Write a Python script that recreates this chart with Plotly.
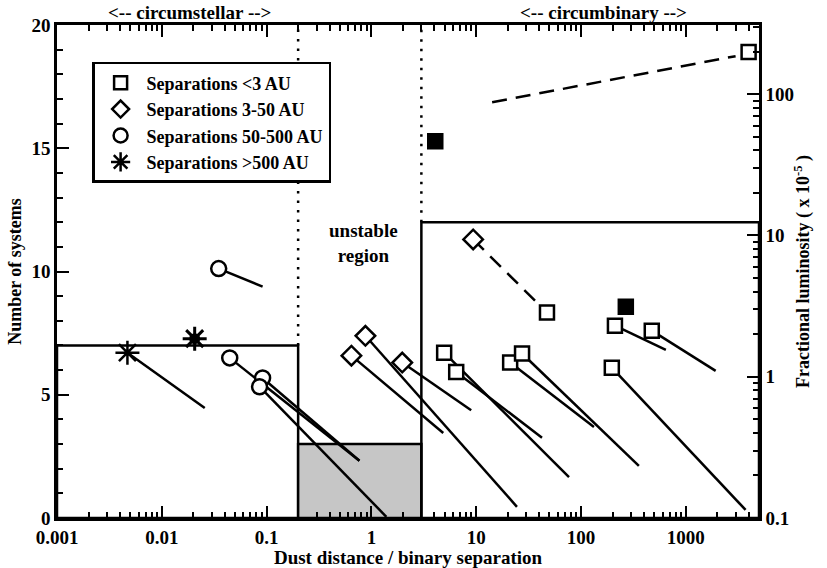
import plotly.graph_objects as go

# ---------------- data ----------------
# histogram (left axis: number of systems)
hist_edges = [0.001, 0.2, 3, 5000]
hist_counts = [7, 3, 12]
hist_shaded = [False, True, False]

# open squares (separations <3 AU) and the end points of their lines (right axis)
sq_x = [4.95, 6.45, 21.1, 27.4, 197, 211, 474, 47.4, 3980]
sq_y = [1.48, 1.08, 1.26, 1.46, 1.16, 2.30, 2.12, 2.85, 199]
sq_end_x = [76.9, 42.5, 133, 357, 3725, 646, 1930, None, None]
sq_end_y = [0.195, 0.37, 0.44, 0.234, 0.114, 1.55, 1.10, None, None]

# filled squares
fsq_x = [4.07, 268]
fsq_y = [46.5, 3.13]

# diamonds (separations 3-50 AU)
dia_x = [0.645, 0.877, 1.97, 9.36]
dia_y = [1.41, 1.95, 1.26, 9.38]
dia_end_x = [4.85, 24.5, 8.96, None]
dia_end_y = [0.40, 0.12, 0.58, None]

# circles (separations 50-500 AU)
circ_x = [0.0349, 0.0445, 0.0916, 0.0857]
circ_y = [5.83, 1.36, 0.98, 0.85]
circ_end_x = [0.0916, 0.769, 0.769, 1.39]
circ_end_y = [4.35, 0.254, 0.254, 0.102]

# asterisks (separations >500 AU)
ast_x = [0.0047]
ast_y = [1.48]
ast_end_x = [0.0257]
ast_end_y = [0.60]
fast_x = [0.0206]
fast_y = [1.86]

# dashed connections
dash_x0 = [9.36, 14.2]
dash_y0 = [9.38, 87.7]
dash_x1 = [47.4, 2990]
dash_y1 = [2.85, 186]

# region boundaries (dotted)
bound_x = [0.2, 3]
bound_y0 = [7, 12]
bound_y1 = [20, 20]

x_ticks = [0.001, 0.01, 0.1, 1, 10, 100, 1000]
x_ticktext = ["0.001", "0.01", "0.1", "1", "10", "100", "1000"]
y2_ticks = [0.1, 1, 10, 100]
y2_ticktext = ["0.1", "1", "10", "100"]

legend_names = ["Separations <3 AU", "Separations 3-50 AU",
                "Separations 50-500 AU", "Separations >500 AU"]

FONT = "Liberation Serif"
LW = 2.5

fig = go.Figure()

# histogram bars
for i, c in enumerate(hist_counts):
    l, r = hist_edges[i], hist_edges[i + 1]
    fig.add_trace(go.Scatter(
        x=[l, l, r, r, l], y=[0, c, c, 0, 0], mode="lines",
        line=dict(color="black", width=LW),
        fill="toself" if hist_shaded[i] else None,
        fillcolor="#c6c6c6", showlegend=False, hoverinfo="skip"))

# dotted boundaries
for bx, b0, b1 in zip(bound_x, bound_y0, bound_y1):
    fig.add_trace(go.Scatter(x=[bx, bx], y=[b0, b1], mode="lines",
                             line=dict(color="black", width=2.5, dash="2.5px,7px"),
                             showlegend=False, hoverinfo="skip"))


def segs(xs, ys, xe, ye):
    sx, sy = [], []
    for a, b, c, d in zip(xs, ys, xe, ye):
        if c is None:
            continue
        sx += [a, c, None]
        sy += [b, d, None]
    return sx, sy


all_sx, all_sy = [], []
for grp in [(sq_x, sq_y, sq_end_x, sq_end_y), (dia_x, dia_y, dia_end_x, dia_end_y),
            (circ_x, circ_y, circ_end_x, circ_end_y), (ast_x, ast_y, ast_end_x, ast_end_y)]:
    a, b = segs(*grp)
    all_sx += a
    all_sy += b

fig.add_trace(go.Scatter(x=all_sx, y=all_sy, mode="lines", yaxis="y2",
                         line=dict(color="black", width=LW),
                         showlegend=False, hoverinfo="skip"))

dx, dy = segs(dash_x0, dash_y0, dash_x1, dash_y1)
fig.add_trace(go.Scatter(x=dx, y=dy, mode="lines", yaxis="y2",
                         line=dict(color="black", width=LW, dash="15px,9px"),
                         showlegend=False, hoverinfo="skip"))

mk_line = dict(color="black", width=LW)
fig.add_trace(go.Scatter(x=sq_x, y=sq_y, mode="markers", yaxis="y2", showlegend=False,
                         marker=dict(symbol="square", size=14, color="white", line=mk_line)))
fig.add_trace(go.Scatter(x=fsq_x, y=fsq_y, mode="markers", yaxis="y2", showlegend=False,
                         marker=dict(symbol="square", size=14, color="black", line=mk_line)))
fig.add_trace(go.Scatter(x=dia_x, y=dia_y, mode="markers", yaxis="y2", showlegend=False,
                         marker=dict(symbol="diamond", size=15, color="white", line=mk_line)))
fig.add_trace(go.Scatter(x=circ_x, y=circ_y, mode="markers", yaxis="y2", showlegend=False,
                         marker=dict(symbol="circle", size=15, color="white", line=mk_line)))
fig.add_trace(go.Scatter(x=ast_x, y=ast_y, mode="markers", yaxis="y2", showlegend=False,
                         marker=dict(symbol="asterisk-open", size=20, color="black", line=mk_line)))
fig.add_trace(go.Scatter(x=fast_x, y=fast_y, mode="markers", yaxis="y2", showlegend=False,
                         marker=dict(symbol="asterisk-open", size=20, color="black",
                                     line=dict(color="black", width=3))))
fig.add_trace(go.Scatter(x=fast_x, y=fast_y, mode="markers", yaxis="y2", showlegend=False,
                         marker=dict(symbol="circle", size=11, color="black")))

# legend entries
leg_syms = ["square-open", "diamond-open", "circle-open", "asterisk-open"]
leg_sizes = [13, 13, 14, 18]
for nm, sy, sz in zip(legend_names, leg_syms, leg_sizes):
    fig.add_trace(go.Scatter(x=[None], y=[None], mode="markers", yaxis="y2", name=nm,
                             marker=dict(symbol=sy, size=sz, color="black",
                                         line=dict(color="black", width=LW))))

tick_font = dict(family=FONT, size=19, color="black", weight="bold")

fig.update_layout(
    width=827, height=568,
    margin=dict(l=57, r=68, t=25, b=50),
    plot_bgcolor="white", paper_bgcolor="white",
    font=dict(family=FONT, size=19, color="black", weight="bold"),
    xaxis=dict(type="log", range=[-3, 3.699], tickmode="array", tickvals=x_ticks,
               ticktext=x_ticktext, ticks="inside", ticklen=12, tickwidth=2,
               tickcolor="black", showline=True, linewidth=LW, linecolor="black",
               mirror="ticks", showgrid=False, zeroline=False, automargin=False,
               tickfont=tick_font, ticklabelstandoff=0,
               minor=dict(ticks="inside", ticklen=6, tickwidth=2, tickcolor="black",
                          dtick="D1", showgrid=False),
               title=dict(text="Dust distance / binary separation", standoff=0,
                          font=dict(family=FONT, size=19, weight="bold"))),
    yaxis=dict(range=[0, 20], tickmode="linear", tick0=0, dtick=5, ticks="inside",
               ticklen=12, tickwidth=2, tickcolor="black", showline=True,
               linewidth=LW, linecolor="black", mirror=False, showgrid=False,
               zeroline=False, automargin=False, tickfont=tick_font,
               minor=dict(ticks="inside", ticklen=6, tickwidth=2, tickcolor="black",
                          dtick=1, showgrid=False),
               title=dict(text="Number of systems", standoff=6,
                          font=dict(family=FONT, size=18, weight="bold"))),
    yaxis2=dict(type="log", range=[-1, 2.49], overlaying="y", side="right",
                tickmode="array", tickvals=y2_ticks, ticktext=y2_ticktext,
                ticks="inside", ticklen=12, tickwidth=2, tickcolor="black",
                showline=True, linewidth=LW, linecolor="black", showgrid=False,
                zeroline=False, automargin=False, tickfont=tick_font,
                minor=dict(ticks="inside", ticklen=6, tickwidth=2, tickcolor="black",
                           dtick="D1", showgrid=False),
                title=dict(text="Fractional luminosity ( x 10<sup>-5</sup> )", standoff=4,
                           font=dict(family=FONT, size=18, weight="bold"))),
    legend=dict(x=0.05, y=0.925, xanchor="left", yanchor="top",
                bgcolor="white", bordercolor="black", borderwidth=LW,
                font=dict(family=FONT, size=18, color="black", weight="bold"),
                itemwidth=42, tracegroupgap=0),
    annotations=[
        dict(text="<-- circumstellar -->", x=0.189, y=1.026, xref="paper", yref="paper",
             showarrow=False, xanchor="center", yanchor="middle",
             font=dict(family=FONT, size=19, weight="bold")),
        dict(text="<-- circumbinary -->", x=0.778, y=1.026, xref="paper", yref="paper",
             showarrow=False, xanchor="center", yanchor="middle",
             font=dict(family=FONT, size=19, weight="bold")),
        dict(text="unstable<br>region", x=0.436, y=0.558, xref="paper", yref="paper",
             showarrow=False, xanchor="center", yanchor="middle",
             font=dict(family=FONT, size=19, weight="bold")),
    ],
)

fig.write_html("out.html", config={"displayModeBar": False},
               post_script="document.body.style.margin='0';document.body.style.overflow='hidden';")
